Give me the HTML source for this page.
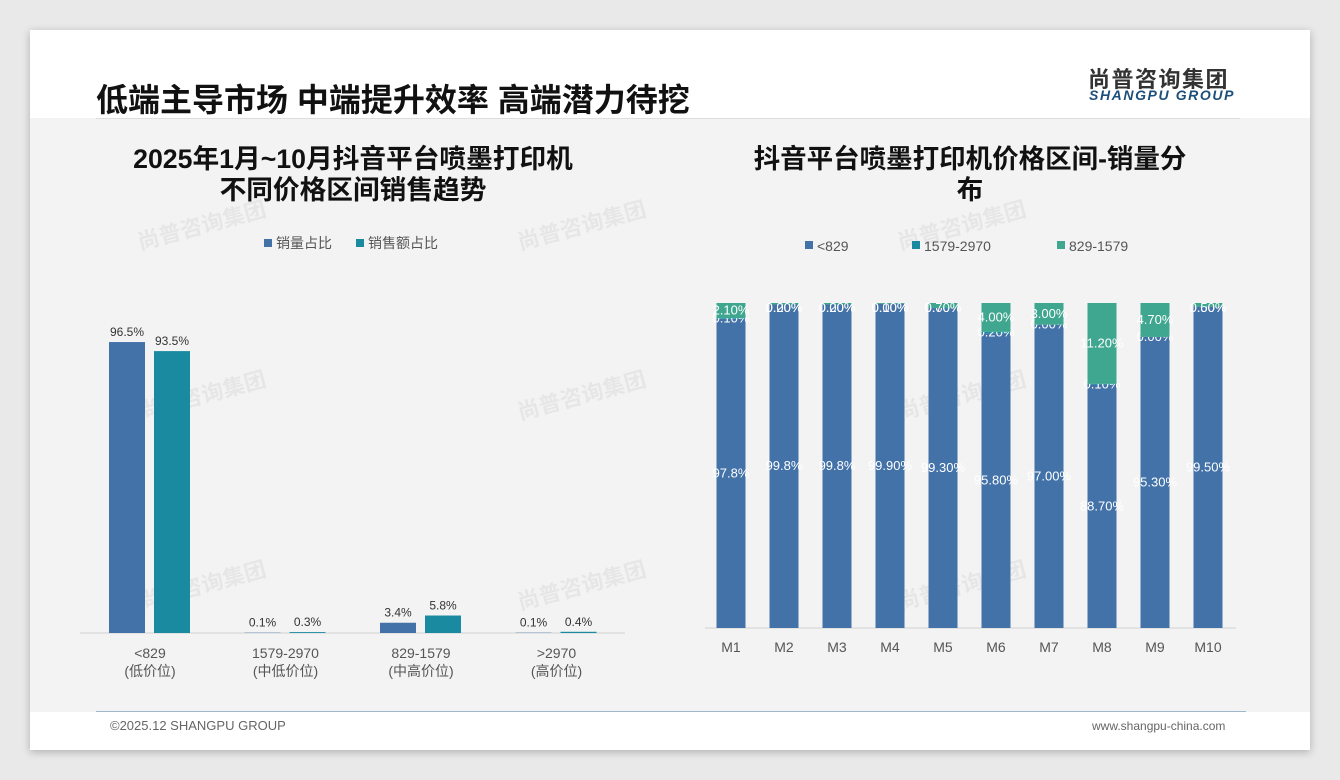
<!DOCTYPE html>
<html><head><meta charset="utf-8"><style>
body{margin:0;width:1340px;height:780px;background:#e9e9e9;font-family:"Liberation Sans","Noto Sans CJK SC",sans-serif;overflow:hidden}
#card{position:absolute;left:30px;top:30px;width:1280px;height:720px;background:#fff;box-shadow:0 2px 8px rgba(0,0,0,.25)}
#content{position:absolute;left:30px;top:118px;width:1280px;height:594px;background:#f3f3f3}
.t{position:absolute;white-space:nowrap}
</style></head><body>
<div id="card"></div>
<div id="content"></div>
<div class="t" style="left:96px;top:75px;font-size:32px;font-weight:bold;color:#111">低端主导市场 中端提升效率 高端潜力待挖</div>
<div class="t" style="left:1088px;top:62px;font-size:22px;font-weight:bold;color:#333;letter-spacing:1.5px">尚普咨询集团</div>
<div class="t" style="left:1089px;top:87px;font-size:14px;font-weight:bold;font-style:italic;color:#1d4f7c;letter-spacing:1.6px">SHANGPU GROUP</div>
<div class="t" style="left:96px;top:118px;width:1144px;height:1px;background:#ddd"></div>
<div class="t" style="left:83px;top:144px;width:540px;text-align:center;font-size:26.7px;font-weight:bold;color:#111;line-height:31px">2025年1月~10月抖音平台喷墨打印机<br>不同价格区间销售趋势</div>
<div class="t" style="left:710px;top:144px;width:520px;text-align:center;font-size:26.5px;font-weight:bold;color:#111;line-height:31px">抖音平台喷墨打印机价格区间-销量分<br>布</div>
<div class="t" style="left:96px;top:711px;width:1150px;height:1px;background:#9fb6cc"></div>
<div class="t" style="left:110px;top:718px;font-size:13px;color:#666">©2025.12 SHANGPU GROUP</div>
<div class="t" style="left:1092px;top:719px;font-size:12px;color:#666">www.shangpu-china.com</div>
<svg id="svg" width="1340" height="780" style="position:absolute;left:0;top:0"></svg>
<script>
const leftCats=["<829","1579-2970","829-1579",">2970"];
const leftSub=["(低价位)","(中低价位)","(中高价位)","(高价位)"];
const volShare=[96.5,0.1,3.4,0.1];
const amtShare=[93.5,0.3,5.8,0.4];
const months=["M1","M2","M3","M4","M5","M6","M7","M8","M9","M10"];
const lowSeg=[97.8,99.8,99.8,99.9,99.3,95.8,97.0,88.7,95.3,99.5];
const midLowSeg=[0.1,0.0,0.0,0.0,0.0,0.2,0.0,0.1,0.0,0.0];
const midHighSeg=[2.1,0.2,0.2,0.1,0.7,4.0,3.0,11.2,4.7,0.5];
const NS="http://www.w3.org/2000/svg",svg=document.getElementById('svg');
function mk(t,a,txt){const e=document.createElementNS(NS,t);for(const k in a)e.setAttribute(k,a[k]);if(txt!==undefined)e.textContent=txt;svg.appendChild(e);return e;}
const F='"Liberation Sans","Noto Sans CJK SC",sans-serif';
[[140,250],[140,420],[140,610],[520,250],[520,420],[520,610],[900,250],[900,420],[900,610]].forEach(p=>{
 let w=mk('text',{x:p[0],y:p[1],'font-size':22,'font-weight':'bold',fill:'#000','fill-opacity':0.05,transform:`rotate(-15 ${p[0]} ${p[1]})`,'font-family':F},'尚普咨询集团');
 
});
const lBase=633,lScale=3.015;
function ly(v){return lBase-v*lScale;}
function lx(i){return 150+i*135.5;}
let ax=mk('line',{x1:80,x2:625,y1:lBase,y2:lBase,stroke:'#d0d0d0'});

leftCats.forEach((c,i)=>{
 const cx=lx(i);
 [[volShare,'#4272a8',-41],[amtShare,'#1a8aa0',4]].forEach((s,j)=>{
  const v=s[0][i];
  let r=mk('rect',{x:cx+s[2],y:ly(v),width:36,height:v*lScale,fill:s[1]});
  
  let t=mk('text',{x:cx+s[2]+18,y:ly(v)-6,'font-size':12,fill:'#333','text-anchor':'middle','font-family':F},v.toFixed(1)+'%');
  
 });
 let t1=mk('text',{x:cx,y:658,'font-size':14,fill:'#555','text-anchor':'middle','font-family':F},c);
 
 let t2=mk('text',{x:cx,y:676,'font-size':14,fill:'#555','text-anchor':'middle','font-family':F},leftSub[i]);
 
});
[[264,'#4272a8','销量占比'],[356,'#1a8aa0','销售额占比']].forEach(l=>{
 let r=mk('rect',{x:l[0],y:239,width:8,height:8,fill:l[1]});
 let t=mk('text',{x:l[0]+12,y:248,'font-size':14,fill:'#555','font-family':F},l[2]);
});
const rBase=628,rTop=303,rMin=55,rMax=100;
function ry(v){return rBase-(v-rMin)/(rMax-rMin)*(rBase-rTop);}
function rx(i){return 731+i*53;}
let ax2=mk('line',{x1:705,x2:1236,y1:rBase,y2:rBase,stroke:'#d0d0d0'});

months.forEach((m,i)=>{
 const cx=rx(i);let cum=0;
 [[lowSeg,'#4272a8'],[midLowSeg,'#1a8aa0'],[midHighSeg,'#3fa68f']].forEach((s,j)=>{
  const v=s[0][i];const y0=Math.min(rBase,ry(Math.max(cum,rMin)));cum+=v;const y1=Math.max(rTop,ry(cum));
  if(y0-y1>0){
   let r=mk('rect',{x:cx-14.5,y:y1,width:29,height:y0-y1,fill:s[1]});
   
  }
  const ly2=Math.max(rTop+9,(y0+y1)/2+4);
  let t=mk('text',{x:cx,y:ly2,'font-size':13,fill:'#fff','text-anchor':'middle','font-family':F},v.toFixed(j===0&&i<3?1:2)+'%');
  
 });
 let t=mk('text',{x:cx,y:652,'font-size':14,fill:'#555','text-anchor':'middle','font-family':F},m);
 
});
[[805,'#4272a8','<829'],[912,'#1a8aa0','1579-2970'],[1057,'#3fa68f','829-1579']].forEach(l=>{
 let r=mk('rect',{x:l[0],y:241,width:8,height:8,fill:l[1]});
 let t=mk('text',{x:l[0]+12,y:251,'font-size':14,fill:'#555','font-family':F},l[2]);
});
</script>
</body></html>
